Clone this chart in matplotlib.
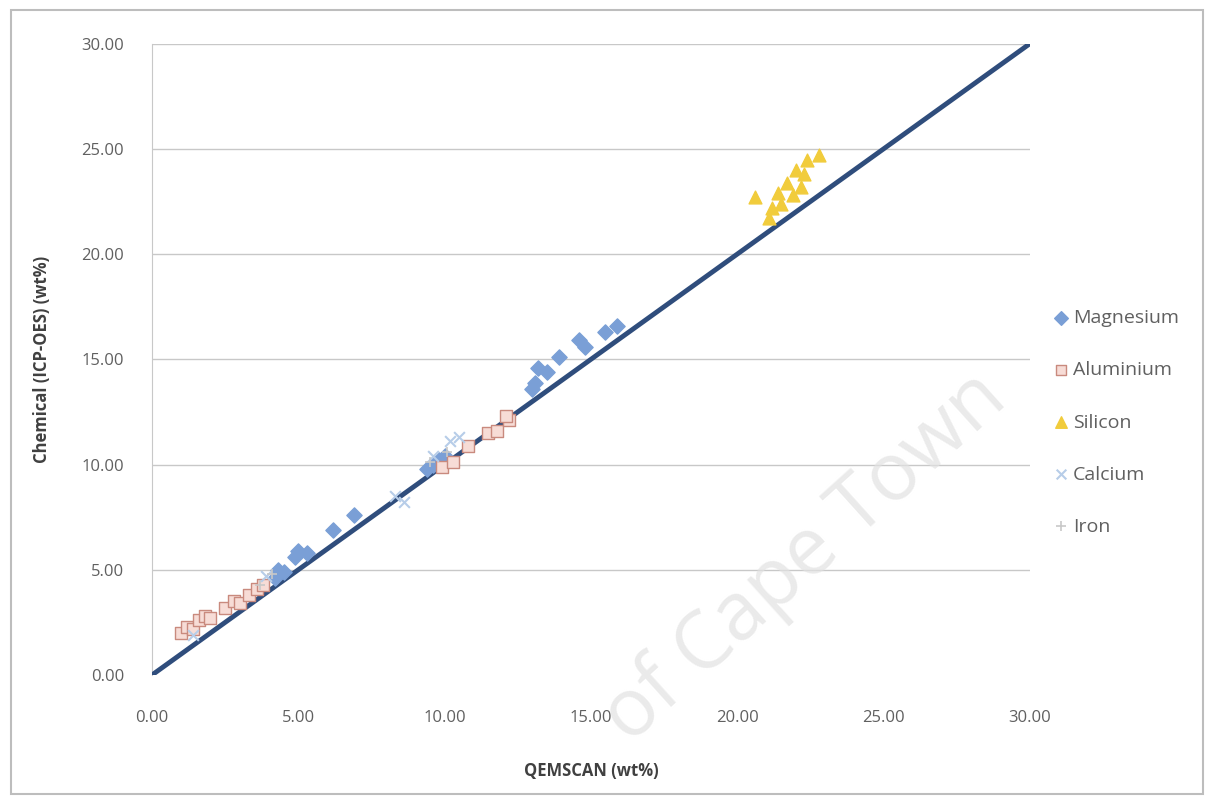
import matplotlib
matplotlib.use('Agg')
from matplotlib import pyplot as plt
from matplotlib.patches import Rectangle

# values (QEMSCAN x, chemical y), wt%
mg_x = [4.2, 4.3, 4.5, 4.9, 5.0, 5.3, 6.2, 6.9, 9.4, 9.6, 9.8, 10.0, 13.0, 13.1, 13.2, 13.5, 13.9, 14.6, 14.8, 15.5, 15.9]
mg_y = [4.6, 5.0, 4.9, 5.6, 5.9, 5.8, 6.9, 7.6, 9.8, 10.0, 10.2, 10.4, 13.6, 13.9, 14.6, 14.4, 15.1, 15.9, 15.6, 16.3, 16.6]

al_x = [1.0, 1.2, 1.4, 1.6, 1.8, 2.0, 2.5, 2.8, 3.0, 3.3, 3.6, 3.8, 9.9, 10.3, 10.8, 11.5, 11.8, 12.2, 12.1]
al_y = [2.0, 2.3, 2.2, 2.6, 2.8, 2.7, 3.2, 3.5, 3.4, 3.8, 4.1, 4.3, 9.9, 10.1, 10.9, 11.5, 11.6, 12.1, 12.3]

si_x = [20.6, 21.1, 21.2, 21.4, 21.5, 21.7, 21.9, 22.0, 22.2, 22.3, 22.4, 22.8]
si_y = [22.7, 21.7, 22.2, 22.9, 22.4, 23.4, 22.8, 24.0, 23.2, 23.8, 24.5, 24.7]

ca_x = [1.4, 8.3, 8.6, 9.6, 10.2, 10.5, 3.9]
ca_y = [1.9, 8.5, 8.2, 10.4, 11.1, 11.3, 4.7]

fe_x = [3.7, 4.1, 9.5, 10.1]
fe_y = [4.3, 4.8, 10.1, 10.6]

ticks = [0, 5, 10, 15, 20, 25, 30]
tick_labels = ['%.2f' % t for t in ticks]

plt.rcParams['font.family'] = ['Open Sans', 'DejaVu Sans']

fig = plt.figure(figsize=(12.1, 7.96), dpi=100)
ax = fig.add_axes([0.1256, 0.152, 0.7254, 0.793])

# chart frame (excel-like chart area border)
fig.patches.append(Rectangle((0.009, 0.003), 0.985, 0.985, transform=fig.transFigure,
                             fill=False, edgecolor='#bdbdbd', lw=1.5))

for t in ticks[1:]:
    ax.axhline(t, color='#c8c8c8', lw=1.0, zorder=0)

ax.plot([0, 30], [0, 30], color='#2f4d7c', lw=3.5, zorder=3)

ax.scatter(mg_x, mg_y, marker='D', s=60, color='#7a9fd6', label='Magnesium', zorder=4)
ax.scatter(al_x, al_y, marker='s', s=75, facecolor='#f7dcd6', edgecolor='#c98a7e', lw=1.0,
           label='Aluminium', zorder=4)
ax.scatter(si_x, si_y, marker='^', s=85, color='#f1cc3c', label='Silicon', zorder=4)
ax.scatter(ca_x, ca_y, marker='x', s=60, color='#b7cde8', lw=1.5, label='Calcium', zorder=4)
ax.scatter(fe_x, fe_y, marker='+', s=60, color='#c8c8c8', lw=1.2, label='Iron', zorder=4)

ax.set_xlim(0, 30)
ax.set_ylim(0, 30)
ax.set_xticks(ticks)
ax.set_xticklabels(tick_labels)
ax.set_yticks(ticks)
ax.set_yticklabels(tick_labels)
ax.tick_params(length=0, labelsize=12, colors='#606060')
ax.tick_params(axis='x', pad=25)
ax.tick_params(axis='y', pad=20)

for side in ['top', 'right', 'bottom']:
    ax.spines[side].set_visible(False)
ax.spines['left'].set_color('#c8c8c8')

ax.set_xlabel('QEMSCAN (wt%)', fontsize=12, fontweight='bold', color='#404040', labelpad=26)
ax.set_ylabel('Chemical (ICP-OES) (wt%)', fontsize=12, fontweight='bold', color='#404040', labelpad=22)

leg = ax.legend(loc='center left', bbox_to_anchor=(1.005, 0.40), frameon=False, fontsize=14,
                labelspacing=1.75, handletextpad=0.1, handlelength=1.0, markerscale=0.9,
                labelcolor='#606060')

# faint watermark
fig.text(0.665, 0.30, 'of Cape Town', fontsize=58, color='#e2e2e2', rotation=42,
         ha='center', va='center', zorder=0, alpha=0.7)

fig.savefig('out.png', dpi=100)
plt.close(fig)
